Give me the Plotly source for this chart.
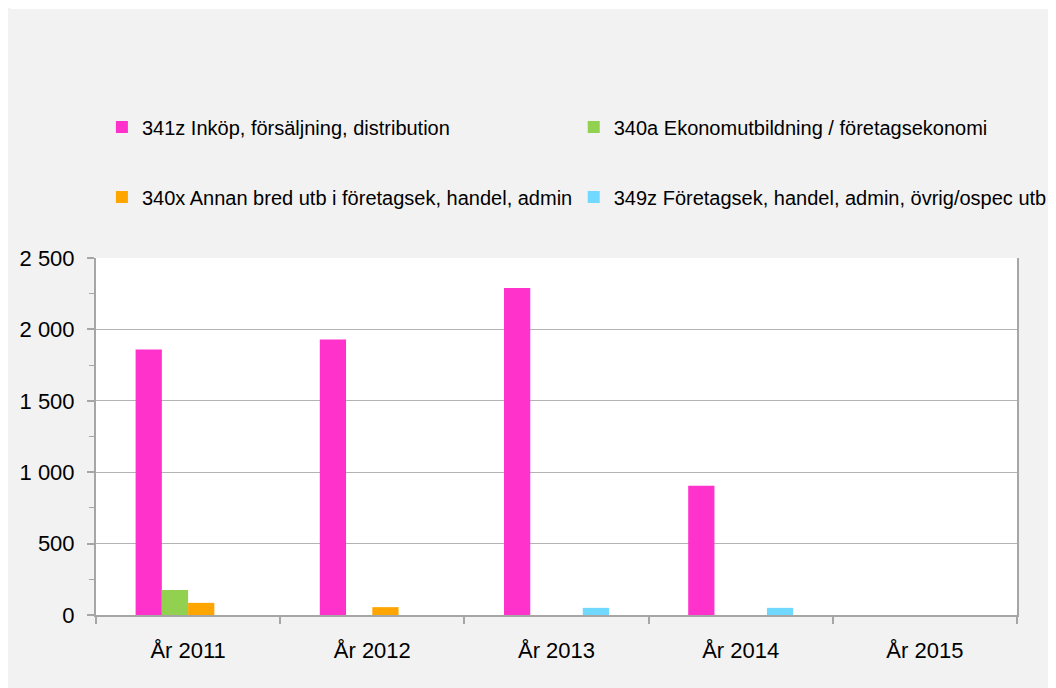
import plotly.graph_objects as go

years = ["År 2011", "År 2012", "År 2013", "År 2014", "År 2015"]
names = [
    "341z Inköp, försäljning, distribution",
    "340a Ekonomutbildning / företagsekonomi",
    "340x Annan bred utb i företagsek, handel, admin",
    "349z Företagsek, handel, admin, övrig/ospec utb",
]
s341z = [1860, 1930, 2290, 905, 0]
s340a = [175, 0, 0, 0, 0]
s340x = [85, 55, 0, 0, 0]
s349z = [0, 0, 50, 50, 0]
series = [s341z, s340a, s340x, s349z]
colors = ["#FF33CC", "#92D050", "#FFA500", "#71D8FF"]
legends = ["legend", "legend2", "legend3", "legend4"]

fig = go.Figure()
for nm, vals, col, lg in zip(names, series, colors, legends):
    fig.add_trace(go.Bar(x=years, y=vals, name=nm, marker_color=col,
                         marker_line_width=0, legend=lg))

# page is offset by 8px in the screenshot; work in figure coordinates
W, H = 1056, 688
L, R, T, B = 87, 34, 250, 81
pw, ph = W - L - R, H - T - B

def px2x(px):
    return (px - L) / pw

def py2y(py):
    return (H - B - py) / ph

font = "Liberation Sans, Arial, sans-serif"
legfont = dict(family=font, size=20, color="#000000")

def leg(xp, yp):
    return dict(orientation="v", x=px2x(xp), xanchor="left",
                y=py2y(yp), yanchor="middle", bgcolor="rgba(0,0,0,0)",
                font=legfont)

col1, col2 = 93, 572
row1, row2 = 119, 189

fig.update_layout(
    width=W, height=H,
    margin=dict(l=L, r=R, t=T, b=B),
    paper_bgcolor="#F2F2F2",
    plot_bgcolor="#FFFFFF",
    barmode="group",
    bargap=0.43,
    bargroupgap=0,
    separators=", ",
    font=dict(family=font, size=22, color="#000000"),
    showlegend=True,
    legend=leg(col1, row1),
    legend2=leg(col2, row1),
    legend3=leg(col1, row2),
    legend4=leg(col2, row2),
    xaxis=dict(
        showline=True, linecolor="#A6A6A6", linewidth=2,
        ticks="outside", tickson="boundaries", ticklen=7,
        tickcolor="#A6A6A6", tickwidth=1.5,
        showgrid=False, ticklabelstandoff=15,
        tickfont=dict(size=22),
    ),
    yaxis=dict(
        range=[0, 2500], dtick=500, tickformat=",d",
        showline=True, linecolor="#A6A6A6", linewidth=2, mirror=True,
        ticks="outside", ticklen=7, tickcolor="#A6A6A6", tickwidth=1.5,
        minor=dict(dtick=250, ticks="outside", ticklen=5,
                   tickcolor="#A6A6A6", tickwidth=1, showgrid=False),
        showgrid=True, gridcolor="#B3B3B3", gridwidth=1.3,
        zeroline=False, ticklabelstandoff=8,
        tickfont=dict(size=22),
    ),
    shapes=[
        dict(type="rect", xref="paper", yref="paper",
             x0=px2x(0), x1=px2x(W), y0=py2y(1), y1=py2y(0),
             fillcolor="#FFFFFF", line_width=0, layer="below"),
    ],
)

fig.write_html("out.html")
